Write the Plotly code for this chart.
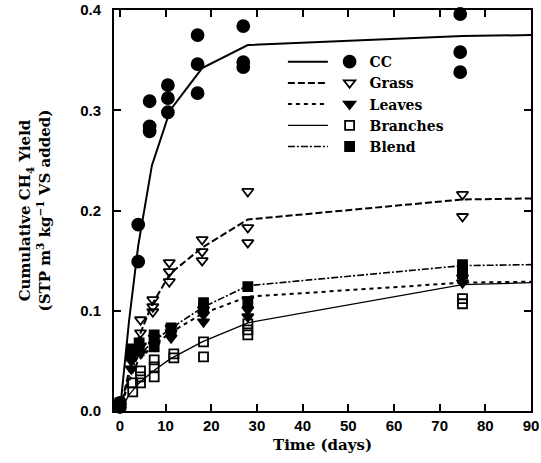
import plotly.graph_objects as go

# ---- data ----
fit_days = [0, 2, 4, 7, 11, 18, 28, 75, 90]

cc_x = [0, 0, 4, 4, 6.5, 6.5, 6.5, 10.5, 10.5, 10.5, 17, 17, 17, 27, 27, 27, 74.5, 74.5, 74.5]
cc_y = [0.008, 0.004, 0.186, 0.149, 0.309, 0.284, 0.279, 0.325, 0.312, 0.298,
        0.375, 0.346, 0.317, 0.384, 0.348, 0.343, 0.396, 0.358, 0.338]
cc_fit = [0, 0.09, 0.165, 0.245, 0.300, 0.342, 0.365, 0.374, 0.375]

grass_x = [0, 2.5, 4.5, 4.5, 7.2, 7.2, 7.2, 10.8, 10.8, 10.8, 18, 18, 18, 28, 28, 28, 75, 75]
grass_y = [0.005, 0.055, 0.091, 0.078, 0.111, 0.104, 0.099, 0.148, 0.139, 0.129,
           0.171, 0.159, 0.150, 0.219, 0.183, 0.168, 0.216, 0.194]
grass_fit = [0, 0.040, 0.072, 0.106, 0.137, 0.163, 0.191, 0.211, 0.212]

leaves_x = [0, 2.5, 2.5, 4.5, 4.5, 7.5, 7.5, 11.2, 11.2, 11.2, 18.3, 18.3, 18.3, 28, 28, 28, 75, 75]
leaves_y = [0.005, 0.050, 0.042, 0.065, 0.058, 0.073, 0.066, 0.083, 0.078, 0.073,
            0.101, 0.096, 0.089, 0.111, 0.101, 0.094, 0.133, 0.128]
leaves_fit = [0, 0.030, 0.050, 0.064, 0.078, 0.097, 0.114, 0.128, 0.129]

branches_x = [0, 2.8, 2.8, 4.5, 4.5, 4.5, 7.5, 7.5, 7.5, 11.8, 11.8, 18.3, 18.3, 28, 28, 28, 75, 75]
branches_y = [0.008, 0.028, 0.019, 0.040, 0.034, 0.028, 0.051, 0.044, 0.034, 0.057, 0.053,
              0.069, 0.054, 0.087, 0.081, 0.076, 0.112, 0.107]
branches_fit = [0, 0.016, 0.027, 0.039, 0.052, 0.069, 0.088, 0.126, 0.128]

blend_x = [0, 2.5, 2.5, 4.2, 4.2, 7.5, 7.5, 7.5, 11.2, 11.2, 18.3, 18.3, 28, 28, 75, 75, 75]
blend_y = [0.006, 0.062, 0.055, 0.068, 0.060, 0.076, 0.071, 0.064, 0.083, 0.079,
           0.108, 0.103, 0.124, 0.109, 0.146, 0.141, 0.137]
blend_fit = [0, 0.035, 0.055, 0.068, 0.082, 0.103, 0.125, 0.145, 0.146]

x_ticks = [0, 10, 20, 30, 40, 50, 60, 70, 80, 90]
y_ticks = [0.0, 0.1, 0.2, 0.3, 0.4]

names = ["CC", "Grass", "Leaves", "Branches", "Blend"]
pts_x = [cc_x, grass_x, leaves_x, branches_x, blend_x]
pts_y = [cc_y, grass_y, leaves_y, branches_y, blend_y]
fits = [cc_fit, grass_fit, leaves_fit, branches_fit, blend_fit]

# ---- styles ----
INK = "#000000"
symbols = ["circle", "triangle-down-open", "triangle-down", "square-open", "square"]
msizes = [12, 10, 10, 9, 9]
dashes = ["solid", "7px,3px", "4px,4px", "solid", "7px,2px,2px,2px"]
lwidths = [2, 2, 2, 1.3, 1.6]
SERIF = "DejaVu Serif"

fig = go.Figure()

for i, n in enumerate(names):
    fig.add_trace(go.Scatter(
        x=fit_days, y=fits[i], mode="lines", name=" ",
        line=dict(color=INK, width=lwidths[i], dash=dashes[i]),
        legend="legend2", cliponaxis=False, legendrank=i + 1,
    ))
for i, n in enumerate(names):
    fig.add_trace(go.Scatter(
        x=pts_x[i], y=pts_y[i], mode="markers", name=n,
        marker=dict(symbol=symbols[i], size=msizes[i], color=INK,
                    line=dict(color=INK, width=1.8)),
        legend="legend", cliponaxis=False, legendrank=i + 1,
    ))

fig.update_layout(
    width=541, height=463,
    margin=dict(l=114, r=10, t=10, b=52, autoexpand=False),
    paper_bgcolor="white", plot_bgcolor="white",
    font=dict(family=SERIF, size=14, color=INK, weight="bold"),
    legend=dict(x=0.517, y=0.91, xanchor="left", yanchor="top",
                bgcolor="rgba(0,0,0,0)", tracegroupgap=0, itemwidth=30,
                font=dict(family=SERIF, size=14, color=INK, weight="bold")),
    legend2=dict(x=0.405, y=0.91, xanchor="left", yanchor="top",
                 bgcolor="rgba(0,0,0,0)", tracegroupgap=0, itemwidth=40,
                 font=dict(family=SERIF, size=14, color=INK, weight="bold")),
    xaxis=dict(
        range=[-1.3, 90], tickvals=x_ticks, ticktext=[str(v) for v in x_ticks],
        ticks="inside", ticklen=7, tickwidth=2, tickcolor=INK, automargin=False,
        showline=True, linecolor=INK, linewidth=2, mirror="ticks",
        showgrid=False, zeroline=False,
        tickfont=dict(family="Liberation Sans", size=15, color=INK, weight="bold"),
        title=dict(text="Time (days)", standoff=6,
                   font=dict(family=SERIF, size=15, color=INK, weight="bold")),
    ),
    yaxis=dict(
        range=[0, 0.4], tickvals=y_ticks, ticktext=[f"{v:.1f}" for v in y_ticks],
        ticks="inside", ticklen=7, tickwidth=2, tickcolor=INK, automargin=False,
        showline=True, linecolor=INK, linewidth=2, mirror="ticks",
        showgrid=False, zeroline=False, ticklabelstandoff=8,
        tickfont=dict(family="Liberation Sans", size=15, color=INK, weight="bold"),
        title=dict(text="Cumulative CH<sub>4</sub> Yield<br>(STP m<sup>3</sup> kg<sup>−1</sup> VS added)",
                   standoff=26,
                   font=dict(family=SERIF, size=15, color=INK, weight="bold")),
    ),
)

fig.write_html("out.html")
